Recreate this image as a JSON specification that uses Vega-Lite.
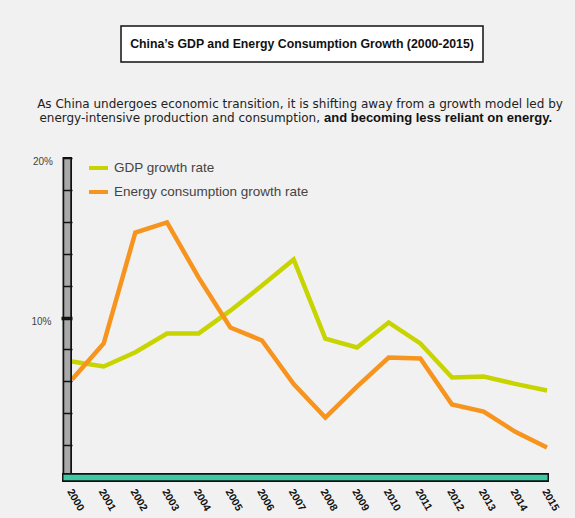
{
  "$schema": "https://vega.github.io/schema/vega-lite/v6.json",
  "autosize": {"type": "none"},
  "padding": {"left": 57, "top": 26, "right": 518, "bottom": 492},
  "background": "#f1f1f1",
  "config": {"view": {"stroke": null}, "font": "Liberation Sans"},
  "spacing": 20,
  "center": true,
  "bounds": "flush",
  "vconcat": [
    {
      "width": 362,
      "height": 36,
      "view": {"stroke": "#111111", "strokeWidth": 1.5, "fill": "#ffffff"},
      "data": {"values": [{"label": "China’s GDP and Energy Consumption Growth (2000-2015)"}]},
      "mark": {"type": "text", "font": "Liberation Sans", "fontSize": 12.3, "fontWeight": "bold", "color": "#111111", "baseline": "middle", "align": "center"},
      "encoding": {"text": {"field": "label"}}
    },
    {
      "width": 490,
      "height": 55.5,
      "layer": [
        {
          "data": {"values": [{"label": "As China undergoes economic transition, it is shifting away from a growth model led by"}]},
          "mark": {"type": "text", "font": "DejaVu Sans", "fontSize": 12, "align": "center", "baseline": "middle", "dx": -2, "dy": -5.75, "color": "#222222"},
          "encoding": {"text": {"field": "label"}}
        },
        {
          "data": {"values": [{"label": "energy-intensive production and consumption,"}]},
          "mark": {"type": "text", "font": "DejaVu Sans", "fontSize": 12, "align": "right", "baseline": "middle", "dx": 18, "dy": 8.25, "color": "#222222"},
          "encoding": {"text": {"field": "label"}}
        },
        {
          "data": {"values": [{"label": "and becoming less reliant on energy."}]},
          "mark": {"type": "text", "font": "Liberation Sans", "fontSize": 13, "fontWeight": "bold", "align": "left", "baseline": "middle", "dx": 22, "dy": 8.25, "color": "#111111"},
          "encoding": {"text": {"field": "label"}}
        }
      ]
    },
    {
      "width": 490,
      "height": 319,
      "layer": [
        {
          "data": {"values": [
            {"year": 2000, "series": "GDP growth rate", "value": 7.24},
            {"year": 2001, "series": "GDP growth rate", "value": 6.93},
            {"year": 2002, "series": "GDP growth rate", "value": 7.82},
            {"year": 2003, "series": "GDP growth rate", "value": 9.0},
            {"year": 2004, "series": "GDP growth rate", "value": 9.0},
            {"year": 2005, "series": "GDP growth rate", "value": 10.43},
            {"year": 2006, "series": "GDP growth rate", "value": 12.0},
            {"year": 2007, "series": "GDP growth rate", "value": 13.64},
            {"year": 2008, "series": "GDP growth rate", "value": 8.68},
            {"year": 2009, "series": "GDP growth rate", "value": 8.12},
            {"year": 2010, "series": "GDP growth rate", "value": 9.69},
            {"year": 2011, "series": "GDP growth rate", "value": 8.37},
            {"year": 2012, "series": "GDP growth rate", "value": 6.24},
            {"year": 2013, "series": "GDP growth rate", "value": 6.3},
            {"year": 2014, "series": "GDP growth rate", "value": 5.84},
            {"year": 2015, "series": "GDP growth rate", "value": 5.42},
            {"year": 2000, "series": "Energy consumption growth rate", "value": 6.11},
            {"year": 2001, "series": "Energy consumption growth rate", "value": 8.37},
            {"year": 2002, "series": "Energy consumption growth rate", "value": 15.33},
            {"year": 2003, "series": "Energy consumption growth rate", "value": 15.96},
            {"year": 2004, "series": "Energy consumption growth rate", "value": 12.5},
            {"year": 2005, "series": "Energy consumption growth rate", "value": 9.37},
            {"year": 2006, "series": "Energy consumption growth rate", "value": 8.56},
            {"year": 2007, "series": "Energy consumption growth rate", "value": 5.82},
            {"year": 2008, "series": "Energy consumption growth rate", "value": 3.73},
            {"year": 2009, "series": "Energy consumption growth rate", "value": 5.67},
            {"year": 2010, "series": "Energy consumption growth rate", "value": 7.49},
            {"year": 2011, "series": "Energy consumption growth rate", "value": 7.43},
            {"year": 2012, "series": "Energy consumption growth rate", "value": 4.55},
            {"year": 2013, "series": "Energy consumption growth rate", "value": 4.1},
            {"year": 2014, "series": "Energy consumption growth rate", "value": 2.83},
            {"year": 2015, "series": "Energy consumption growth rate", "value": 1.85}
          ]},
          "mark": {"type": "line", "strokeWidth": 4.5},
          "encoding": {
            "x": {
              "field": "year", "type": "quantitative",
              "scale": {"domain": [1999.526, 2015], "nice": false, "zero": false},
              "axis": {
                "title": null, "values": [2000, 2001, 2002, 2003, 2004, 2005, 2006, 2007, 2008, 2009, 2010, 2011, 2012, 2013, 2014, 2015],
                "tickCount": 16,
                "format": "d", "domain": false, "ticks": false, "grid": false,
                "labelAngle": 60, "labelAlign": "left", "labelBaseline": "middle",
                "labelPadding": 12.5, "labelOffset": -3, "labelFlush": false, "labelOverlap": false, "labelBound": false, "labelSeparation": 0,
                "labelFont": "Liberation Sans", "labelFontWeight": "bold", "labelFontSize": 10.5, "labelColor": "#111111"
              }
            },
            "y": {
              "field": "value", "type": "quantitative",
              "scale": {"domain": [0, 20], "nice": false},
              "axis": {
                "title": null, "values": [2, 4, 6, 8, 10, 12, 14, 16, 18, 20],
                "tickCount": 10,
                "labelExpr": "datum.value == 10 || datum.value == 20 ? datum.value + '%' : ''",
                "labelOverlap": false, "labelFlush": false, "labelBound": false, "labelSeparation": 0,
                "domain": false, "grid": false, "offset": -15, "zindex": 1,
                "tickColor": "#111111",
                "tickSize": {"condition": {"test": "datum.value == 10", "value": 11}, "value": 9.5},
                "tickWidth": {"condition": {"test": "datum.value == 10", "value": 3.5}, "value": 1.5},
                "labelPadding": 10, "labelOffset": 3.5,
                "labelFont": "Liberation Sans", "labelFontSize": 10, "labelColor": "#444444", "labelBaseline": "middle"
              }
            },
            "color": {
              "field": "series", "type": "nominal",
              "scale": {"domain": ["GDP growth rate", "Energy consumption growth rate"], "range": ["#c8d400", "#f7941d"]},
              "legend": {
                "orient": "none", "legendX": 30, "legendY": 130.5, "title": null, "padding": 0,
                "symbolType": "stroke", "symbolSize": 361, "symbolStrokeWidth": 4,
                "labelFont": "Liberation Sans", "labelFontSize": 13.5, "labelColor": "#444444", "labelLimit": 400,
                "rowPadding": 4, "labelOffset": 4
              }
            }
          }
        },
        {
          "data": {"values": [{}]},
          "mark": {"type": "rule", "color": "#111111", "strokeWidth": 9.5, "xOffset": -4.75, "y2Offset": -1},
          "encoding": {"x": {"datum": 2000, "type": "quantitative"}, "y": {"datum": 0, "type": "quantitative"}, "y2": {"datum": 20}}
        },
        {
          "data": {"values": [{}]},
          "mark": {"type": "rule", "color": "#a9a9a9", "strokeWidth": 6, "xOffset": -4.75, "y2Offset": 1},
          "encoding": {"x": {"datum": 2000, "type": "quantitative"}, "y": {"datum": 0, "type": "quantitative"}, "y2": {"datum": 20}}
        },
        {
          "data": {"values": [{}]},
          "mark": {"type": "rule", "color": "#111111", "strokeWidth": 9, "xOffset": -10, "x2Offset": 2, "yOffset": 0.5},
          "encoding": {"x": {"datum": 2000, "type": "quantitative"}, "x2": {"datum": 2015}, "y": {"datum": 0, "type": "quantitative"}}
        },
        {
          "data": {"values": [{}]},
          "mark": {"type": "rule", "color": "#3cc9a3", "strokeWidth": 5.5, "xOffset": -8.5, "x2Offset": 0.5, "yOffset": 0.5},
          "encoding": {"x": {"datum": 2000, "type": "quantitative"}, "x2": {"datum": 2015}, "y": {"datum": 0, "type": "quantitative"}}
        }
      ]
    }
  ]
}
